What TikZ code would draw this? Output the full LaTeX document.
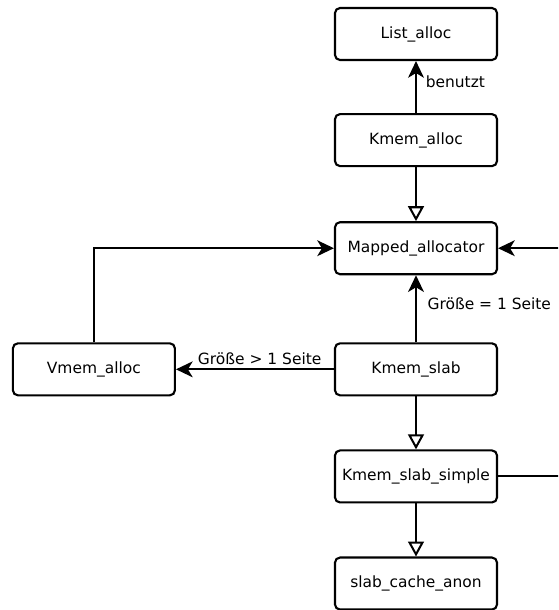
\documentclass[tikz,border=0pt]{standalone}
\usepackage{fontspec}
\setmainfont{DejaVu Sans}
\usepackage{tikz}
\usetikzlibrary{arrows.meta, positioning}

\begin{document}
\begin{tikzpicture}[
        node distance=1.06cm and 3.16cm,
        % Klassen als abgerundete Kaesten
        classbox/.style={rectangle, draw=black, line width=1.2pt, rounded corners=0.1cm, fill=white, minimum width=3.24cm, minimum height=1.04cm, inner sep=0pt, font=\fontsize{8.8}{10}\selectfont},
        usearrow/.style={-{Stealth[length=9.5pt, width=9pt, inset=2.7pt]}, line width=1.15pt},
        inheritarrow/.style={-{Triangle[open, length=8.5pt, width=9pt, fill=white]}, line width=1.15pt},
        edgelabel/.style={font=\fontsize{8.8}{10}\selectfont, inner sep=1pt}
    ]
    \useasboundingbox (0,0) rectangle (11.16,-12.2);
    \clip (0,0) rectangle (11.16,-12.2);

    % Obere Reihe
    \node (list) [classbox] at (8.32,-0.68) {List\_alloc};
    \node (kmemalloc) [classbox, below=1.04cm of list] {Kmem\_alloc};
    \node (mapped) [classbox, below=1.08cm of kmemalloc] {Mapped\_allocator};

    % Slab-Teil
    \node (kmemslab) [classbox, below=1.34cm of mapped] {Kmem\_slab};
    \node (vmem) [classbox, left=of kmemslab] {Vmem\_alloc};
    \node (simple) [classbox, below=of kmemslab] {Kmem\_slab\_simple};
    \node (anon) [classbox, below=of simple] {slab\_cache\_anon};

    % Benutzt-Beziehungen
    \draw [usearrow] (kmemalloc) -- (list) node[edgelabel, pos=0.6, right=4pt] {benutzt};
    \draw [usearrow] (kmemslab) -- (mapped) node[edgelabel, pos=0.58, right=5pt] {Größe = 1 Seite};
    \draw [usearrow] (kmemslab) -- (vmem) node[edgelabel, pos=0.47, above=1pt] {Größe > 1 Seite};
    \draw [usearrow] (vmem.north) |- (mapped.west);
    \draw [usearrow] (simple.east) -- ++(1.5,0) |- (mapped.east);

    % Vererbung
    \draw [inheritarrow] (kmemalloc) -- (mapped);
    \draw [inheritarrow] (kmemslab) -- (simple);
    \draw [inheritarrow] (simple) -- (anon);

\end{tikzpicture}
\end{document}
